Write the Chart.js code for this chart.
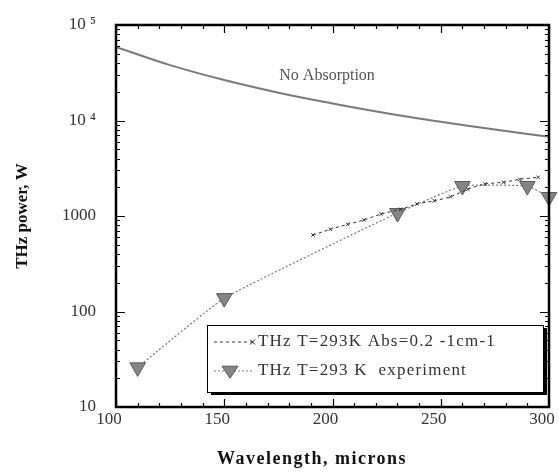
<!DOCTYPE html>
<html>
<head>
<meta charset="utf-8">
<script src="https://cdn.jsdelivr.net/npm/chart.js@4.4.1/dist/chart.umd.min.js"></script>
<style>
  html, body { margin: 0; padding: 0; background: #fff; }
  #wrap { width: 559px; height: 474px; position: relative; }
</style>
</head>
<body>
<div id="wrap"><canvas id="c" width="559" height="474"></canvas></div>
<script>
// ---- data ----
const noAbsWavelength = [100, 125, 150, 175, 200, 225, 250, 275, 300];
const noAbsPower      = [59000, 38000, 26500, 19550, 15100, 11940, 9700, 8040, 6760];

const absWavelength = [191, 199, 207, 214.5, 222.5, 231.5, 239, 247, 254.5, 262.5, 270.5, 279, 286.5, 295];
const absPower      = [632, 726, 818, 908, 1050, 1175, 1336, 1445, 1592, 1905, 2163, 2254, 2421, 2541];

const expWavelength = [110, 150, 230, 260, 290, 300];
const expPower      = [26, 138, 1075, 2060, 2060, 1580];

const xTicks = [100, 150, 200, 250, 300];
const yTicks = [10, 100, 1000, 10000, 100000];
const yTickLabels = ['10', '100', '1000', '10 \u2074', '10 \u2075'];

const seriesLabels = ['No Absorption', 'THz T=293K Abs=0.2 -1cm-1', 'THz T=293 K  experiment'];
const xTitle = 'Wavelength, microns';
const yTitle = 'THz power, W';

const zip = (xs, ys) => xs.map((x, i) => ({ x: x, y: ys[i] }));

// ---- frame, inward ticks, annotation, x title, legend ----
const framePlugin = {
  id: 'frame',
  afterDatasetsDraw(chart) {
    const ctx = chart.ctx;
    const a = chart.chartArea;
    const xs = chart.scales.x, ys = chart.scales.y;
    ctx.save();
    // "No Absorption" annotation
    ctx.font = '16px "Liberation Serif"';
    ctx.fillStyle = '#555';
    ctx.textAlign = 'center';
    ctx.textBaseline = 'middle';
    ctx.fillText(seriesLabels[0], xs.getPixelForValue(197.5), ys.getPixelForValue(29500));

    // ticks
    ctx.strokeStyle = '#000';
    ctx.lineWidth = 1.2;
    ctx.beginPath();
    for (let v = xTicks[0]; v <= xTicks[xTicks.length - 1]; v += 10) {
      const px = Math.round(xs.getPixelForValue(v)) + 0.5;
      const len = (v % 50 === 0) ? 8 : 4;
      ctx.moveTo(px, a.bottom); ctx.lineTo(px, a.bottom - len);
      ctx.moveTo(px, a.top); ctx.lineTo(px, a.top + len);
    }
    for (let d = 10; d < 100000; d *= 10) {
      for (let k = 1; k <= 9; k++) {
        const py = Math.round(ys.getPixelForValue(k * d)) + 0.5;
        const len = (k === 1) ? 9 : 4;
        ctx.moveTo(a.left, py); ctx.lineTo(a.left + len, py);
        ctx.moveTo(a.right, py); ctx.lineTo(a.right - len, py);
      }
    }
    ctx.stroke();

    // frame
    ctx.lineWidth = 2.5;
    ctx.strokeRect(a.left, a.top, a.right - a.left, a.bottom - a.top);

    // x-axis title
    ctx.font = 'bold 18px "Liberation Serif"';
    ctx.fillStyle = '#111';
    ctx.textAlign = 'center';
    ctx.textBaseline = 'middle';
    if ('letterSpacing' in ctx) ctx.letterSpacing = '1.5px';
    ctx.fillText(xTitle, 312, 459);
    if ('letterSpacing' in ctx) ctx.letterSpacing = '0px';

    // legend box
    const bx = a.left + 91, by = a.top + 300, bw = 336, bh = 67;
    ctx.fillStyle = '#000';
    ctx.fillRect(bx + 4, by + 3, bw, bh);
    ctx.fillStyle = '#fff';
    ctx.fillRect(bx, by, bw, bh);
    ctx.lineWidth = 1;
    ctx.strokeStyle = '#000';
    ctx.strokeRect(bx + 0.5, by + 0.5, bw, bh);

    const ds = chart.data.datasets;
    const rows = [{ d: ds[1], y: by + 17 }, { d: ds[2], y: by + 46 }];
    rows.forEach((r, i) => {
      ctx.save();
      ctx.strokeStyle = r.d.borderColor;
      ctx.lineWidth = r.d.borderWidth;
      ctx.setLineDash(r.d.borderDash || []);
      ctx.beginPath();
      ctx.moveTo(bx + 7, r.y); ctx.lineTo(bx + 46, r.y);
      ctx.stroke();
      ctx.setLineDash([]);
      ctx.restore();
      if (i === 0) {
        ctx.save();
        ctx.strokeStyle = '#222'; ctx.lineWidth = 1;
        ctx.beginPath();
        ctx.moveTo(bx + 43, r.y - 2.5); ctx.lineTo(bx + 48, r.y + 2.5);
        ctx.moveTo(bx + 48, r.y - 2.5); ctx.lineTo(bx + 43, r.y + 2.5);
        ctx.stroke();
        ctx.restore();
      } else {
        ctx.save();
        ctx.fillStyle = r.d.pointBackgroundColor;
        ctx.strokeStyle = r.d.pointBorderColor;
        const cx = bx + 23, s = 8;
        ctx.beginPath();
        ctx.moveTo(cx - s, r.y - s * 0.6);
        ctx.lineTo(cx + s, r.y - s * 0.6);
        ctx.lineTo(cx, r.y + s * 0.9);
        ctx.closePath();
        ctx.fill(); ctx.stroke();
        ctx.restore();
      }
      ctx.font = '17px "Liberation Serif"';
      ctx.fillStyle = '#333';
      ctx.textAlign = 'left';
      ctx.textBaseline = 'middle';
      if ('letterSpacing' in ctx) ctx.letterSpacing = '1.2px';
      ctx.fillText(r.d.label, bx + 51, r.y);
      if ('letterSpacing' in ctx) ctx.letterSpacing = '0px';
    });
    ctx.restore();
  }
};

new Chart(document.getElementById('c'), {
  type: 'line',
  data: {
    datasets: [
      {
        label: seriesLabels[0],
        data: zip(noAbsWavelength, noAbsPower),
        borderColor: '#7a7a7a',
        borderWidth: 2,
        pointRadius: 0,
        tension: 0.4,
        fill: false
      },
      {
        label: seriesLabels[1],
        data: zip(absWavelength, absPower),
        borderColor: '#333',
        borderWidth: 1,
        borderDash: [3, 3],
        pointStyle: 'crossRot',
        pointRadius: 2.5,
        pointBorderColor: '#333',
        pointBorderWidth: 1,
        tension: 0.3,
        fill: false
      },
      {
        label: seriesLabels[2],
        data: zip(expWavelength, expPower),
        borderColor: '#777',
        borderWidth: 1.2,
        borderDash: [2, 2],
        pointStyle: 'triangle',
        rotation: 180,
        pointRadius: 9,
        pointBackgroundColor: '#858585',
        pointBorderColor: '#5a5a5a',
        pointBorderWidth: 1,
        tension: 0.12,
        fill: false,
        clip: 10
      }
    ]
  },
  options: {
    responsive: false,
    animation: false,
    layout: { padding: { left: 0, right: 6, top: 25, bottom: 0 } },
    plugins: { legend: { display: false }, tooltip: { enabled: false } },
    scales: {
      x: {
        type: 'linear',
        min: 100, max: 300,
        grid: { display: false, drawTicks: false },
        border: { display: false },
        afterBuildTicks: (s) => { s.ticks = xTicks.map(v => ({ value: v })); },
        ticks: {
          padding: 2,
          labelOffset: -7,
          font: { family: '"Liberation Serif"', size: 17 },
          color: '#333',
          autoSkip: false,
          maxRotation: 0
        },
        afterFit: (s) => { s.height = 67; s.paddingLeft = 0; s.paddingRight = 0; }
      },
      y: {
        type: 'logarithmic',
        min: 10, max: 100000,
        grid: { display: false, drawTicks: false },
        border: { display: false },
        afterBuildTicks: (s) => { s.ticks = yTicks.map(v => ({ value: v })); },
        ticks: {
          padding: 20,
          font: { family: '"Liberation Serif"', size: 17 },
          color: '#333',
          autoSkip: false,
          callback: (v) => { const i = yTicks.indexOf(v); return i >= 0 ? yTickLabels[i] : ''; }
        },
        title: {
          display: true,
          text: yTitle,
          font: { family: '"Liberation Serif"', size: 17, weight: 'bold' },
          color: '#111',
          padding: { top: 12, bottom: 0 }
        },
        afterFit: (s) => { s.width = 116; s.paddingTop = 0; s.paddingBottom = 0; }
      }
    }
  },
  plugins: [framePlugin]
});
</script>
</body>
</html>
